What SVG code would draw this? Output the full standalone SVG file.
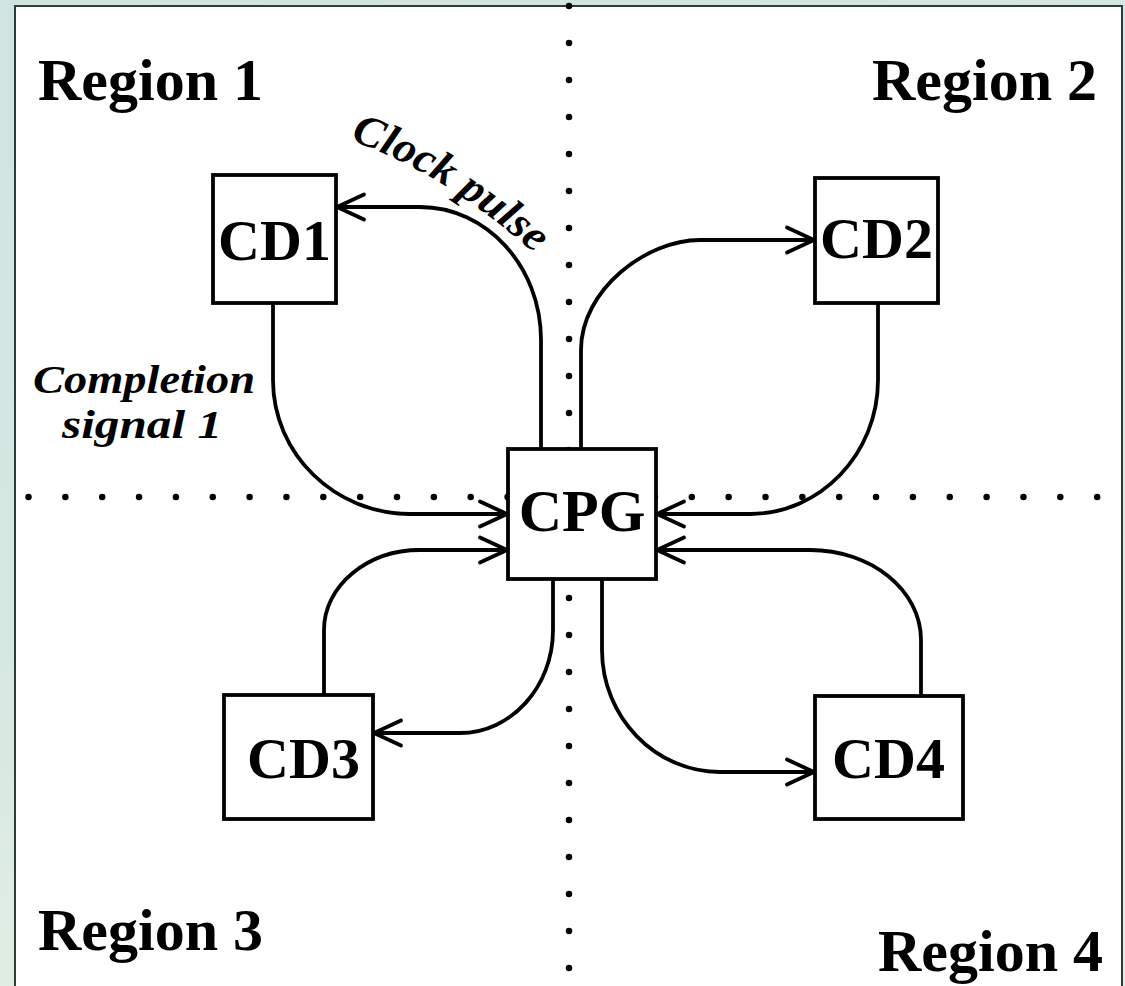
<svg xmlns="http://www.w3.org/2000/svg" width="1125" height="986" viewBox="0 0 1125 986">
  <defs>
    <linearGradient id="bg" x1="0" y1="0" x2="0.3" y2="1">
      <stop offset="0" stop-color="#d0e4e0"/>
      <stop offset="0.6" stop-color="#d6e8e2"/>
      <stop offset="1" stop-color="#e3eee3"/>
    </linearGradient>
    <marker id="arr" markerUnits="userSpaceOnUse" orient="auto" markerWidth="40" markerHeight="40" viewBox="-32 -20 40 40" refX="0" refY="0">
      <path d="M-27,-12.5 L0,0 L-27,12.5" fill="none" stroke="#000" stroke-width="3.8" stroke-linecap="round" stroke-linejoin="miter"/>
    </marker>
    <style>
      .box { fill: #fff; stroke: #000; stroke-width: 3.8; }
      .conn { fill: none; stroke: #000; stroke-width: 3.8; marker-end: url(#arr); }
      .dots { stroke: #000; stroke-width: 6.5; stroke-linecap: round; fill: none; }
      .big { font-family: "Liberation Serif", "Times New Roman", serif; font-weight: bold; fill: #000; }
      .lbl { font-family: "Liberation Serif", "Times New Roman", serif; font-weight: bold; font-style: italic; fill: #000; }
    </style>
  </defs>

  <rect x="0" y="0" width="1125" height="986" fill="url(#bg)"/>
  <rect x="15" y="6" width="1107" height="1000" fill="#fff" stroke="#2f3d38" stroke-width="2"/>

  <g id="dividers">
    <line class="dots" x1="569" y1="6" x2="569" y2="969" stroke-dasharray="0 37"/>
    <line class="dots" x1="28.5" y1="497" x2="1105" y2="497" stroke-dasharray="0 36.85"/>
  </g>

  <g id="region-labels">
    <text class="big" x="38" y="100" font-size="60">Region 1</text>
    <text class="big" x="1097" y="100" font-size="60" text-anchor="end">Region 2</text>
    <text class="big" x="38" y="950" font-size="60">Region 3</text>
    <text class="big" x="1103" y="971" font-size="60" text-anchor="end">Region 4</text>
  </g>

  <g id="connectors">
    <path class="conn" d="M541,449 L541,340 C541,267 487,207 420,207 L337,207"/>
    <path class="conn" d="M581,449 L581,350 C581,290 646,240 700,240 L814,240"/>
    <path class="conn" d="M273,303 L273,380 C273,454 335,514 410,514 L507,514"/>
    <path class="conn" d="M878,303 L878,380 C878,454 820,514 750,514 L657,514"/>
    <path class="conn" d="M324,695 L324,630 C324,586 367,550 420,550 L507,550"/>
    <path class="conn" d="M921,696 L921,640 C921,590 871,550 810,550 L657,550"/>
    <path class="conn" d="M553,579 L553,630 C553,687 511,733 460,733 L374,733"/>
    <path class="conn" d="M602,579 L602,650 C602,717 655,772 720,772 L814,772"/>
  </g>

  <g id="CPG">
    <rect class="box" x="508" y="449" width="148" height="130"/>
    <text class="big" x="582" y="531" font-size="60" text-anchor="middle">CPG</text>
  </g>
  <g id="CD1">
    <rect class="box" x="213" y="175" width="123" height="128"/>
    <text class="big" x="274.5" y="260" font-size="58" text-anchor="middle">CD1</text>
  </g>
  <g id="CD2">
    <rect class="box" x="815" y="178" width="123" height="125"/>
    <text class="big" x="876.5" y="258" font-size="58" text-anchor="middle">CD2</text>
  </g>
  <g id="CD3">
    <rect class="box" x="224" y="695" width="149" height="124"/>
    <text class="big" x="303.5" y="778" font-size="58" text-anchor="middle">CD3</text>
  </g>
  <g id="CD4">
    <rect class="box" x="815" y="696" width="148" height="123"/>
    <text class="big" x="888.5" y="778" font-size="58" text-anchor="middle">CD4</text>
  </g>

  <g id="labels">
    <path id="clockPath" d="M350,140 Q452,176 548,266" fill="none"/>
    <text class="lbl" font-size="44"><textPath href="#clockPath" textLength="218" lengthAdjust="spacingAndGlyphs">Clock pulse</textPath></text>
    <text class="lbl" x="33" y="393" font-size="41" textLength="222" lengthAdjust="spacingAndGlyphs">Completion</text>
    <text class="lbl" x="62" y="438" font-size="41" textLength="160" lengthAdjust="spacingAndGlyphs">signal 1</text>
  </g>
</svg>
